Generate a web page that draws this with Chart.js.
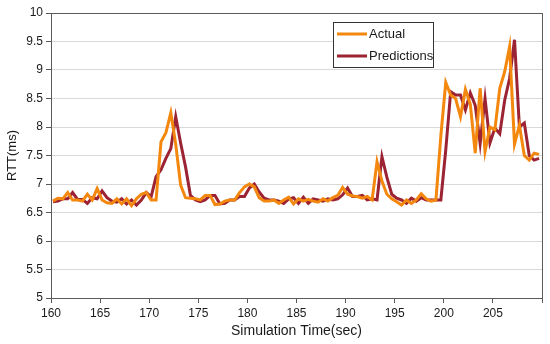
<!DOCTYPE html>
<html>
<head>
<meta charset="utf-8">
<script src="https://cdn.jsdelivr.net/npm/chart.js@4/dist/chart.umd.min.js"></script>
<style>
  html, body { margin: 0; padding: 0; background: #fff; }
  #rttChart { display: block; }
</style>
</head>
<body>
<canvas id="rttChart" width="550" height="344"></canvas>
<script>
// sample times (sec)
const times = [
    160.2, 160.7, 161.2, 161.7, 162.2, 162.7, 163.2, 163.7, 164.2, 164.7,
    165.2, 165.7, 166.2, 166.7, 167.2, 167.7, 168.2, 168.7, 169.2, 169.7,
    170.2, 170.7, 171.2, 171.7, 172.2, 172.7, 173.2, 173.7, 174.2, 174.7,
    175.2, 175.7, 176.2, 176.7, 177.2, 177.7, 178.2, 178.7, 179.2, 179.7,
    180.2, 180.7, 181.2, 181.7, 182.2, 182.7, 183.2, 183.7, 184.2, 184.7,
    185.2, 185.7, 186.2, 186.7, 187.2, 187.7, 188.2, 188.7, 189.2, 189.7,
    190.2, 190.7, 191.2, 191.7, 192.2, 192.7, 193.2, 193.7, 194.2, 194.7,
    195.2, 195.7, 196.2, 196.7, 197.2, 197.7, 198.2, 198.7, 199.2, 199.7,
    200.2, 200.7, 201.2, 201.7, 202.2, 202.7, 203.2, 203.7, 204.2, 204.7,
    205.2, 205.7, 206.2, 206.7, 207.2, 207.7, 208.2, 208.7, 209.2, 209.7
];

// RTT in ms
const actual = [
    6.70, 6.75, 6.74, 6.85, 6.72, 6.72, 6.70, 6.82, 6.72, 6.92,
    6.72, 6.67, 6.66, 6.74, 6.65, 6.74, 6.62, 6.74, 6.82, 6.85,
    6.72, 6.72, 7.74, 7.90, 8.25, 7.70, 6.98, 6.76, 6.75, 6.74,
    6.72, 6.80, 6.80, 6.64, 6.65, 6.70, 6.72, 6.72, 6.85, 6.95,
    7.00, 6.95, 6.76, 6.70, 6.70, 6.72, 6.66, 6.72, 6.77, 6.65,
    6.74, 6.70, 6.73, 6.70, 6.68, 6.74, 6.70, 6.76, 6.80, 6.94,
    6.82, 6.79, 6.78, 6.75, 6.78, 6.72, 7.39, 7.05, 6.82, 6.74,
    6.69, 6.63, 6.72, 6.66, 6.72, 6.83, 6.74, 6.70, 6.72, 7.85,
    8.78, 8.56, 8.50, 8.18, 8.66, 8.40, 7.54, 8.68, 7.57, 8.00,
    7.95, 8.68, 8.97, 9.41, 7.70, 8.03, 7.50, 7.42, 7.54, 7.52
];

const predictions = [
    6.69, 6.70, 6.74, 6.74, 6.85, 6.73, 6.73, 6.66, 6.76, 6.74,
    6.88, 6.76, 6.70, 6.68, 6.74, 6.65, 6.72, 6.63, 6.72, 6.85,
    6.78, 7.13, 7.25, 7.45, 7.62, 8.18, 7.72, 7.30, 6.80, 6.72,
    6.69, 6.72, 6.80, 6.80, 6.65, 6.66, 6.72, 6.72, 6.78, 6.78,
    6.93, 7.00, 6.86, 6.75, 6.72, 6.72, 6.70, 6.66, 6.74, 6.76,
    6.66, 6.77, 6.66, 6.74, 6.72, 6.70, 6.74, 6.72, 6.74, 6.81,
    6.93, 6.78, 6.78, 6.80, 6.72, 6.74, 6.72, 7.48, 7.12, 6.82,
    6.75, 6.72, 6.66, 6.75, 6.70, 6.76, 6.72, 6.72, 6.72, 6.72,
    7.60, 8.62, 8.56, 8.56, 8.30, 8.60, 8.38, 7.71, 8.50, 7.72,
    7.98, 7.88, 8.47, 8.85, 9.53, 8.00, 8.07, 7.50, 7.42, 7.45
];

const seriesNames = ['Actual', 'Predictions'];
const seriesColors = ['#F4870E', '#9B2333'];

Chart.defaults.font.family = "'Liberation Sans', Arial, sans-serif";
Chart.defaults.color = '#1a1a1a';

function toPoints(values) {
    return values.map((v, i) => ({ x: times[i], y: v }));
}

// frame round the plot area
const plotFrame = {
    id: 'plotFrame',
    beforeDatasetsDraw(chart) {
        const { ctx, chartArea: a } = chart;
        ctx.save();
        ctx.strokeStyle = '#5a5a5a';
        ctx.lineWidth = 1;
        ctx.strokeRect(a.left + 0.5, a.top + 0.5, a.right - a.left, a.bottom - a.top);
        ctx.restore();
    }
};

// boxed legend inside the plot, top right
const boxLegend = {
    id: 'boxLegend',
    afterDatasetsDraw(chart) {
        const ctx = chart.ctx;
        const bx = 333, by = 22, bw = 100, bh = 45;
        ctx.save();
        ctx.fillStyle = '#fff';
        ctx.fillRect(bx, by, bw, bh);
        ctx.strokeStyle = '#333';
        ctx.lineWidth = 1;
        ctx.strokeRect(bx + 0.5, by + 0.5, bw, bh);
        ctx.font = "13px 'Liberation Sans', Arial, sans-serif";
        ctx.textBaseline = 'middle';
        chart.data.datasets.forEach((ds, i) => {
            const y = by + 12 + i * 22;
            ctx.strokeStyle = ds.borderColor;
            ctx.lineWidth = 3;
            ctx.beginPath();
            ctx.moveTo(bx + 4, y);
            ctx.lineTo(bx + 34, y);
            ctx.stroke();
            ctx.fillStyle = '#1a1a1a';
            ctx.fillText(ds.label, bx + 36, y);
        });
        ctx.restore();
    }
};

new Chart(document.getElementById('rttChart'), {
    type: 'line',
    data: {
        datasets: [
            { label: seriesNames[0], data: toPoints(actual), borderColor: seriesColors[0] },
            { label: seriesNames[1], data: toPoints(predictions), borderColor: seriesColors[1] }
        ]
    },
    options: {
        responsive: false,
        animation: false,
        layout: { padding: { top: 13, right: 8, left: 0, bottom: 0 } },
        elements: {
            point: { radius: 0 },
            line: { borderWidth: 3, tension: 0, fill: false, borderJoinStyle: 'miter' }
        },
        plugins: {
            legend: { display: false },
            tooltip: { enabled: false }
        },
        scales: {
            x: {
                type: 'linear',
                min: 160,
                max: 210,
                afterFit(scale) { scale.height = 46; },
                ticks: {
                    stepSize: 5,
                    padding: 3,
                    font: { size: 12 },
                    maxRotation: 0,
                    callback: v => (v === 210 ? '' : String(v))
                },
                grid: { drawOnChartArea: false, tickLength: 5, tickColor: '#5a5a5a' },
                border: { color: '#5a5a5a' },
                title: { display: true, text: 'Simulation Time(sec)', font: { size: 14 }, padding: { top: 2, bottom: 4 } }
            },
            y: {
                min: 5,
                max: 10,
                afterFit(scale) { scale.width = 51; },
                ticks: { stepSize: 0.5, padding: 3, font: { size: 12 }, callback: v => String(v) },
                grid: { color: '#d9d9d9', tickLength: 5, tickColor: '#5a5a5a' },
                border: { color: '#5a5a5a' },
                title: { display: true, text: 'RTT(ms)', font: { size: 13 }, padding: { top: 5, bottom: 0 } }
            }
        }
    },
    plugins: [plotFrame, boxLegend]
});
</script>
</body>
</html>
